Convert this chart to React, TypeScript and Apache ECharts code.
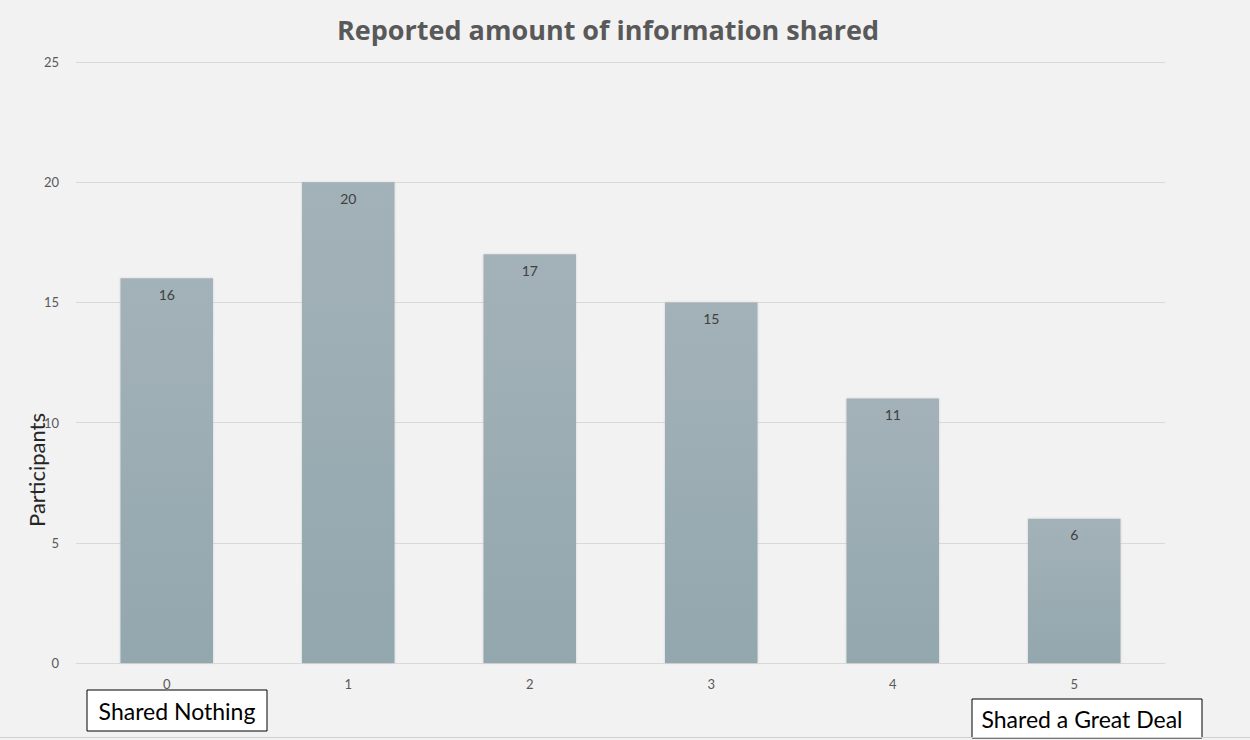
import React, { useEffect, useRef } from "react";
import * as echarts from "echarts";

const categories = ["0", "1", "2", "3", "4", "5"];
const participants = [16, 20, 17, 15, 11, 6];
const yTicks = { min: 0, max: 25, interval: 5 };
const titleText = "Reported amount of information shared";
const yAxisName = "Participants";
const leftNote = "Shared Nothing";
const rightNote = "Shared a Great Deal";

export default function App() {
  const ref = useRef<HTMLDivElement>(null);
  useEffect(() => {
    document.body.style.margin = "0";
    const chart = echarts.init(ref.current!, null, { renderer: "svg" });
    const font = "Lato, 'DejaVu Sans', sans-serif";
    chart.setOption({
      animation: false,
      backgroundColor: "#f2f2f2",
      title: {
        text: titleText,
        left: 603,
        top: 11,
        textAlign: "center",
        textStyle: { fontFamily: "'Open Sans', sans-serif", fontSize: 27, fontWeight: "bold", color: "#595959" },
      },
      grid: { left: 76, right: 85, top: 62, bottom: 77, containLabel: false },
      xAxis: {
        type: "category",
        data: categories,
        axisLine: { show: true, lineStyle: { color: "#d9d9d9" } },
        axisTick: { show: false },
        axisLabel: { fontFamily: font, fontSize: 13, color: "#595959", margin: 14 },
      },
      yAxis: {
        type: "value",
        min: yTicks.min,
        max: yTicks.max,
        interval: yTicks.interval,
        axisLine: { show: false },
        axisTick: { show: false },
        splitLine: { lineStyle: { color: "#d9d9d9" } },
        axisLabel: { fontFamily: font, fontSize: 13, color: "#595959", margin: 17 },
      },
      series: [
        {
          type: "bar",
          data: participants,
          barWidth: "51%",
          itemStyle: {
            color: new echarts.graphic.LinearGradient(0, 0, 0, 1, [
              { offset: 0, color: "#a3b2b8" },
              { offset: 1, color: "#93a7ae" },
            ]),
            shadowColor: "rgba(0,0,0,0.15)",
            shadowBlur: 2,
          },
          label: {
            show: true,
            position: "insideTop",
            distance: 9,
            fontFamily: font,
            fontSize: 14,
            color: "#404040",
          },
        },
      ],
      graphic: [
        {
          type: "text",
          x: 36,
          y: 470,
          rotation: Math.PI / 2,
          style: {
            text: yAxisName,
            fontFamily: font,
            fontSize: 22,
            fill: "#262626",
            align: "center",
            verticalAlign: "middle",
          },
        },
        {
          type: "rect",
          shape: { x: 87, y: 690, width: 180, height: 41 },
          style: { fill: "#ffffff", stroke: "#000000", lineWidth: 1 },
        },
        {
          type: "text",
          x: 177,
          y: 711,
          style: {
            text: leftNote,
            fontFamily: font,
            fontSize: 23,
            fill: "#000000",
            align: "center",
            verticalAlign: "middle",
          },
        },
        {
          type: "rect",
          shape: { x: 972, y: 699, width: 230, height: 39 },
          style: { fill: "#ffffff", stroke: "#000000", lineWidth: 1 },
        },
        {
          type: "text",
          x: 1082,
          y: 719,
          style: {
            text: rightNote,
            fontFamily: font,
            fontSize: 23,
            fill: "#000000",
            align: "center",
            verticalAlign: "middle",
          },
        },
        {
          type: "line",
          shape: { x1: 0, y1: 737.5, x2: 1250, y2: 737.5 },
          style: { stroke: "#cfcfcf", lineWidth: 1 },
        },
      ],
    });
    return () => chart.dispose();
  }, []);
  return <div ref={ref} style={{ width: 1250, height: 740 }} />;
}
